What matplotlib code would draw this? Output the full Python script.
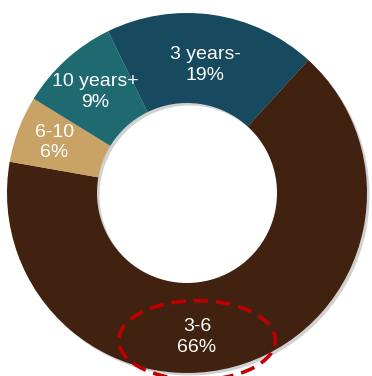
import numpy as np
import matplotlib.pyplot as plt
from matplotlib.patches import Ellipse

labels = ["3 years-", "3-6", "6-10", "10 years+"]
shares = [19, 66, 6, 9]
colors = ["#174a5e", "#412211", "#c9a265", "#1f6a70"]

plt.rcParams['font.family'] = ['Liberation Sans Narrow', 'Liberation Sans', 'DejaVu Sans']

fig = plt.figure(figsize=(3.72, 3.76), dpi=100)
ax = fig.add_axes([0, 0, 1, 1])

# soft drop shadow under the ring
ax.pie(shares, radius=1, startangle=116, counterclock=False, center=(0.014, -0.014),
       colors=["#000000"] * 4, wedgeprops=dict(width=0.5, alpha=0.18, linewidth=0))
wedges, _ = ax.pie(shares, radius=1, startangle=116, counterclock=False,
                   colors=colors, wedgeprops=dict(width=0.5, linewidth=0))
ax.set_xlim(-187 / 180, 185 / 180)
ax.set_ylim(-183 / 180, 193 / 180)
ax.set_aspect("equal")
ax.axis("off")

label_r = {"3 years-": 0.72, "3-6": 0.80, "6-10": 0.79, "10 years+": 0.76}
for w, lab, val in zip(wedges, labels, shares):
    ang = np.deg2rad((w.theta1 + w.theta2) / 2)
    if lab == "3-6":
        ang = np.deg2rad(-86)
    r = label_r[lab]
    ax.text(r * np.cos(ang), r * np.sin(ang), f"{lab}\n{val}%", color="white",
            fontsize=14, ha="center", va="center", linespacing=1.3)

x36 = 0.80 * np.cos(np.deg2rad(-86))
y36 = 0.80 * np.sin(np.deg2rad(-86))
ax.add_patch(Ellipse((x36, y36 - 0.02), 0.87, 0.44, fill=False, edgecolor="#c00000",
                     linewidth=2.6, linestyle=(0, (4, 2.2))))

fig.savefig("out.png", dpi=100)
